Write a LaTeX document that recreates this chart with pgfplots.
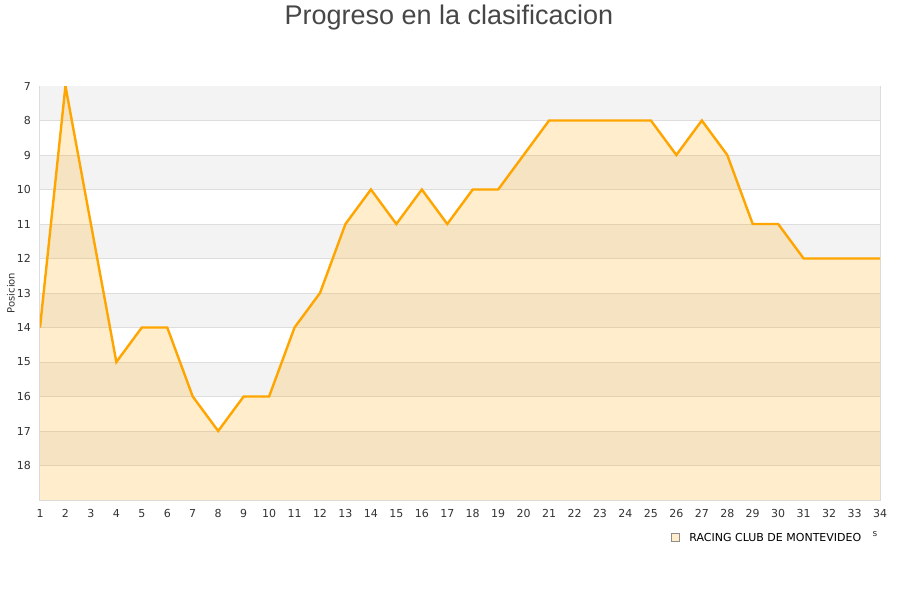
\documentclass[border=0pt]{standalone}
\usepackage{pgfplots}
\pgfplotsset{compat=1.18}
\usepackage{fontspec}
\setmainfont{DejaVu Sans}
\newfontfamily\titlefont{Liberation Sans}
\definecolor{band}{HTML}{F3F3F3}
\definecolor{gridc}{HTML}{DDDDDD}
\definecolor{lineor}{HTML}{FFA500}
\definecolor{txt}{HTML}{333333}
\pgfplotstableread{
x y
1 14
2 7
3 11
4 15
5 14
6 14
7 16
8 17
9 16
10 16
11 14
12 13
13 11
14 10
15 11
16 10
17 11
18 10
19 10
20 9
21 8
22 8
23 8
24 8
25 8
26 9
27 8
28 9
29 11
30 11
31 12
32 12
33 12
34 12
}\racing
\begin{document}
\begin{tikzpicture}[x=1pt,y=1pt]
\useasboundingbox[fill=white] (0,0) rectangle (450,300);
\node[font=\titlefont\fontsize{13.5}{15}\selectfont, text=black!72, anchor=center] at (224.5,291) {Progreso en la clasificacion};
\node[rotate=90, font=\fontsize{5}{6}\selectfont, text=txt, inner sep=0pt] at (5.5,153.5) {Posicion};
\begin{axis}[
  at={(20pt,50pt)}, anchor=south west,
  scale only axis, width=420pt, height=207pt,
  xmin=1, xmax=34, ymin=7, ymax=19, y dir=reverse,
  xtick={1,...,34}, ytick={7,...,18},
  major tick length=0pt,
  tick label style={font=\fontsize{5.5}{6}\selectfont, text=txt},
  /pgf/number format/assume math mode=true,
  xticklabel style={yshift=-1pt},
  yticklabel style={xshift=-1pt},
  axis line style={gridc, line width=0.5pt},
  clip=true,
]
\pgfplotsinvokeforeach{7,9,11,13,15,17}{
  \fill[band] (axis cs:1,#1) rectangle (axis cs:34,#1+1);
}
\pgfplotsinvokeforeach{8,...,18}{
  \draw[gridc, line width=0.5pt] (axis cs:1,#1) -- (axis cs:34,#1);
}
\addplot[fill=lineor, fill opacity=0.2, draw=none] table[x=x,y=y] {\racing} -- (axis cs:34,19) -- (axis cs:1,19) -- cycle;
\addplot[lineor, line width=1.2pt, mark=none] table[x=x,y=y] {\racing};
\end{axis}
\fill[fill=lineor!20, draw=black!45, line width=0.4pt] (335.5,29.5) rectangle (339.5,33.5);
\node[anchor=west, font=\fontsize{5.5}{6}\selectfont, text=black, inner sep=0pt] at (344.5,31.5) {RACING CLUB DE MONTEVIDEO};
\node[anchor=center, font=\fontsize{4.5}{5}\selectfont, text=txt, inner sep=0pt] at (437.5,33) {s};
\end{tikzpicture}
\end{document}
